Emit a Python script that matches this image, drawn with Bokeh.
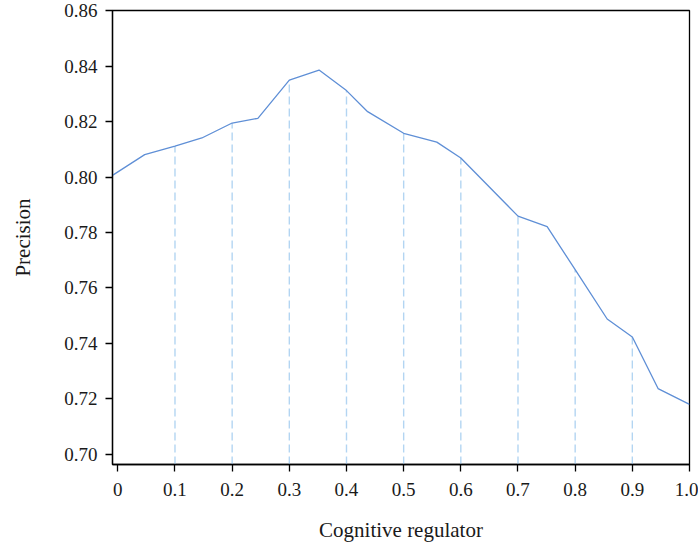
from bokeh.plotting import figure
from bokeh.models import FixedTicker, Range1d
from bokeh.embed import file_html
from bokeh.resources import INLINE

# Data
regulator = [-0.0087, 0.047, 0.1, 0.147, 0.2, 0.245, 0.3, 0.352, 0.4, 0.437,
             0.5, 0.558, 0.6, 0.7, 0.751, 0.8, 0.856, 0.9, 0.945, 1.0]
precision = [0.8007, 0.8081, 0.8112, 0.8141, 0.8195, 0.8212, 0.8350, 0.8386, 0.8312, 0.8236,
             0.8158, 0.8126, 0.8069, 0.7859, 0.7821, 0.7666, 0.7488, 0.7423, 0.7237, 0.7180]

x_ticks = [0, 0.1, 0.2, 0.3, 0.4, 0.5, 0.6, 0.7, 0.8, 0.9, 1.0]
x_tick_labels = ["0", "0.1", "0.2", "0.3", "0.4", "0.5", "0.6", "0.7", "0.8", "0.9", "1.0"]
y_ticks = [0.70, 0.72, 0.74, 0.76, 0.78, 0.80, 0.82, 0.84, 0.86]
y_tick_labels = ["0.70", "0.72", "0.74", "0.76", "0.78", "0.80", "0.82", "0.84", "0.86"]
drop_at = [0.1, 0.2, 0.3, 0.4, 0.5, 0.6, 0.7, 0.8, 0.9]

Y_MIN, Y_MAX = 0.6963, 0.8601
X_MIN, X_MAX = -0.0093, 1.0

FONT = "Liberation Serif"

p = figure(width=698, height=550, output_backend="svg", toolbar_location=None,
           x_range=Range1d(X_MIN, X_MAX), y_range=Range1d(Y_MIN, Y_MAX),
           min_border_left=112, min_border_right=9, min_border_top=10, min_border_bottom=86)

p.background_fill_color = "white"
p.border_fill_color = "white"
p.outline_line_color = "black"
p.outline_line_width = 1.3
p.xgrid.visible = False
p.ygrid.visible = False

# drop lines at the tick positions
dx, dy = [], []
for xv, yv in zip(regulator, precision):
    if any(abs(xv - d) < 1e-9 for d in drop_at):
        dx.append(xv)
        dy.append(yv)
p.segment(x0=dx, y0=[Y_MIN] * len(dx), x1=dx, y1=dy,
          line_color="#b3d5f2", line_width=1.4, line_dash="8 4")

p.line(regulator, precision, line_color="#5f8fd6", line_width=1.3)

for ax in (p.xaxis[0], p.yaxis[0]):
    ax.axis_line_color = "black"
    ax.axis_line_width = 1.3
    ax.major_tick_line_color = "black"
    ax.major_tick_line_width = 1.3
    ax.major_tick_out = 7
    ax.major_tick_in = 0
    ax.minor_tick_line_color = None
    ax.major_label_text_font = FONT
    ax.major_label_text_font_size = "19px"
    ax.major_label_text_color = "#1a1a1a"
    ax.axis_label_text_font = FONT
    ax.axis_label_text_font_size = "21px"
    ax.axis_label_text_font_style = "normal"
    ax.axis_label_text_color = "#1a1a1a"

p.xaxis.ticker = FixedTicker(ticks=x_ticks)
p.xaxis.major_label_overrides = dict(zip(x_ticks, x_tick_labels))
p.yaxis.ticker = FixedTicker(ticks=y_ticks)
p.yaxis.major_label_overrides = dict(zip(y_ticks, y_tick_labels))

p.xaxis.axis_label = "Cognitive regulator"
p.yaxis.axis_label = "Precision"
p.xaxis.major_label_standoff = 11
p.yaxis.major_label_standoff = 8
p.xaxis.axis_label_standoff = 19
p.yaxis.axis_label_standoff = 26

open("out.html", "w").write(file_html(p, INLINE))
